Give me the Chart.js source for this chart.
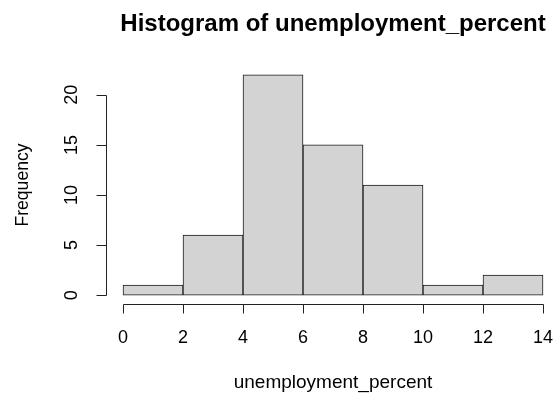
<!DOCTYPE html>
<html>
<head>
<meta charset="utf-8">
<script src="https://cdn.jsdelivr.net/npm/chart.js@4/dist/chart.umd.min.js"></script>
<style>
  html, body { margin: 0; padding: 0; background: #ffffff; }
  #wrap { width: 556px; height: 393px; position: relative; }
</style>
</head>
<body>
<div id="wrap"><canvas id="hist"></canvas></div>
<script>
// Histogram bins (lower / upper edges) and counts
const binLower = [0, 2, 4, 6, 8, 10, 12];
const binUpper = [2, 4, 6, 8, 10, 12, 14];
const frequencies = [1, 6, 22, 15, 11, 1, 2];

// Axis tick values
const xTickValues = [0, 2, 4, 6, 8, 10, 12, 14];
const yTickValues = [0, 5, 10, 15, 20];

// Text
const mainTitle = 'Histogram of unemployment_percent';
const xAxisTitle = 'unemployment_percent';
const yAxisTitle = 'Frequency';

const FONT = '"Liberation Sans", Arial, Helvetica, sans-serif';
const AXIS_COLOR = '#222222';

// Visible plot range (the right margin is clipped by the canvas edge)
const X_MIN = -0.567, X_MAX = 14.433;
const Y_MIN = -0.88, Y_MAX = 22.88;

const barData = binLower.map((lo, i) => ({ x: (lo + binUpper[i]) / 2, y: frequencies[i] }));

// Axes in base-graphics style: lines spanning only the tick range,
// outward tick marks, upright x labels and rotated y labels, titles
const baseAxesPlugin = {
  id: 'baseAxes',
  afterDraw(chart) {
    const ctx = chart.ctx;
    const xs = chart.scales.x;
    const ys = chart.scales.y;
    const area = chart.chartArea;
    ctx.save();
    ctx.strokeStyle = AXIS_COLOR;
    ctx.lineWidth = 1;

    // x axis line and ticks
    const xy = Math.round(area.bottom) + 0.5;
    ctx.beginPath();
    ctx.moveTo(Math.round(xs.getPixelForValue(xTickValues[0])) + 0.5, xy);
    ctx.lineTo(Math.round(xs.getPixelForValue(xTickValues[xTickValues.length - 1])) + 0.5, xy);
    xTickValues.forEach(v => {
      const px = Math.round(xs.getPixelForValue(v)) + 0.5;
      ctx.moveTo(px, xy);
      ctx.lineTo(px, xy + 9);
    });
    ctx.stroke();

    // y axis line and ticks
    const yx = Math.round(area.left) + 0.5;
    ctx.beginPath();
    ctx.moveTo(yx, Math.round(ys.getPixelForValue(yTickValues[0])) + 0.5);
    ctx.lineTo(yx, Math.round(ys.getPixelForValue(yTickValues[yTickValues.length - 1])) + 0.5);
    yTickValues.forEach(v => {
      const py = Math.round(ys.getPixelForValue(v)) + 0.5;
      ctx.moveTo(yx, py);
      ctx.lineTo(yx - 10, py);
    });
    ctx.stroke();

    ctx.fillStyle = '#000000';
    ctx.textAlign = 'center';
    ctx.textBaseline = 'middle';

    // x tick labels
    ctx.font = '18px ' + FONT;
    xTickValues.forEach(v => {
      ctx.fillText(String(v), xs.getPixelForValue(v), 338);
    });

    // y tick labels, rotated to read upwards
    yTickValues.forEach(v => {
      const py = ys.getPixelForValue(v);
      ctx.save();
      ctx.translate(72, py);
      ctx.rotate(-Math.PI / 2);
      ctx.fillText(String(v), 0, 0);
      ctx.restore();
    });

    // y axis title
    ctx.font = '17.6px ' + FONT;
    ctx.save();
    ctx.translate(23, (area.top + area.bottom) / 2);
    ctx.rotate(-Math.PI / 2);
    ctx.fillText(yAxisTitle, 0, 0);
    ctx.restore();

    // titles centred on the tick range
    const cx = (xs.getPixelForValue(xTickValues[0]) +
                xs.getPixelForValue(xTickValues[xTickValues.length - 1])) / 2;

    ctx.font = '19px ' + FONT;
    ctx.fillText(xAxisTitle, cx, 383);

    ctx.font = 'bold 24px ' + FONT;
    ctx.fillText(mainTitle, cx, 24);
    ctx.restore();
  }
};

new Chart(document.getElementById('hist'), {
  type: 'bar',
  data: {
    datasets: [{
      data: barData,
      backgroundColor: '#d3d3d3',
      borderColor: '#1a1a1a',
      borderWidth: 1,
      barPercentage: 1,
      categoryPercentage: 1,
      borderSkipped: false
    }]
  },
  options: {
    responsive: true,
    maintainAspectRatio: false,
    animation: false,
    devicePixelRatio: 1,
    layout: { padding: { top: 66, right: 0, bottom: 0, left: 0 } },
    plugins: {
      legend: { display: false },
      title: { display: false },
      tooltip: { enabled: false }
    },
    scales: {
      x: {
        type: 'linear',
        offset: false,
        min: X_MIN,
        max: X_MAX,
        afterBuildTicks(scale) { scale.ticks = xTickValues.map(v => ({ value: v })); },
        afterFit(scale) { scale.height = 89; scale.paddingLeft = 0; scale.paddingRight = 0; },
        border: { display: false },
        grid: { display: false },
        ticks: { display: false }
      },
      y: {
        type: 'linear',
        min: Y_MIN,
        max: Y_MAX,
        afterBuildTicks(scale) { scale.ticks = yTickValues.map(v => ({ value: v })); },
        afterFit(scale) { scale.width = 106; },
        border: { display: false },
        grid: { display: false },
        ticks: { display: false }
      }
    }
  },
  plugins: [baseAxesPlugin]
});
</script>
</body>
</html>
